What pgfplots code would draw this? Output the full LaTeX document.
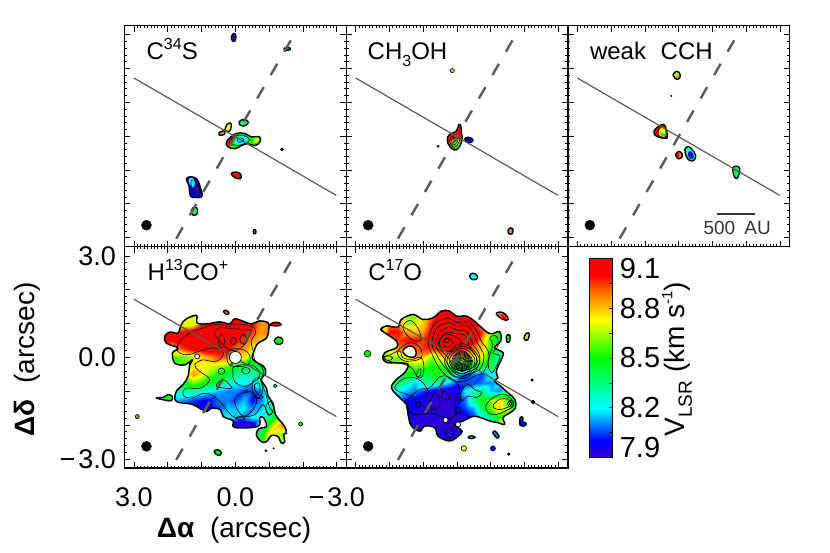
\documentclass[border=0pt]{standalone}
\usepackage{fontspec}
\setmainfont{Liberation Sans}
\usepackage{pgfplots}
\usepackage{pgfplotstable}
\pgfplotsset{compat=1.18}

\definecolor{vR}{RGB}{255,0,0}
\definecolor{vO}{RGB}{255,128,0}
\definecolor{vY}{RGB}{255,255,0}
\definecolor{vYG}{RGB}{170,255,0}
\definecolor{vG}{RGB}{0,255,0}
\definecolor{vGC}{RGB}{0,255,128}
\definecolor{vC}{RGB}{0,255,255}
\definecolor{vCB}{RGB}{0,128,255}
\definecolor{vB}{RGB}{0,0,255}
\definecolor{vI}{RGB}{60,0,200}
\definecolor{paline}{RGB}{90,90,90}

\newcommand{\sups}[1]{\raisebox{.42em}{\fontsize{16}{16}\selectfont #1}}
\newcommand{\subs}[1]{\raisebox{-.28em}{\fontsize{16}{16}\selectfont #1}}

\pgfplotsset{
  colormap={idl}{rgb255(0)=(60,0,200) rgb255(10)=(0,0,255) rgb255(30)=(0,255,255) rgb255(60)=(0,255,0) rgb255(83)=(255,255,0) rgb255(98)=(255,128,0) rgb255(110)=(255,0,0) rgb255(120)=(255,0,0)},
  panel/.style={
    scale only axis, width=221.7pt, height=221.2pt,
    xmin=-3.28, xmax=3.28, ymin=-3.27, ymax=3.27, x dir=reverse,
    axis on top, anchor=south west,
    xtick={-3,-2,-1,0,1,2,3}, ytick={-3,-2,-1,0,1,2,3},
    minor x tick num=9, minor y tick num=4, tick align=inside,
    major tick length=6pt, minor tick length=2.5pt,
    tick style={black,line width=.7pt},
    axis line style={line width=1.3pt},
    xticklabels={}, yticklabels={},
    colormap name=idl, point meta min=7.9, point meta max=9.1,
    tick label style={font=\fontsize{27}{27}\selectfont},
    label style={font=\fontsize{28}{28}\selectfont},
  },
  ct/.style={black,line width=.6pt,smooth cycle,tension=.7},
  field/.style={surf,shader=interp,point meta=explicit},
}
\newcommand{\ct}[1]{\addplot[ct] coordinates {#1};}
\newcommand{\blob}[2]{\addplot[fill=#1,draw=black,line width=1.4pt,line join=round,smooth cycle,tension=.7] coordinates {#2};}
\newcommand{\patch}[2]{\addplot[fill=#1,draw=none,smooth cycle,tension=.7] coordinates {#2};}
\newcommand{\dotm}[4]{\addplot[only marks,mark=*,mark size=#3pt,mark options={draw=black,fill=#4,line width=.7pt}] coordinates {(#1,#2)};}
\newcommand{\maskblob}[1]{%
  \fill[white,even odd rule] (-3.28,-3.27) rectangle (3.28,3.27) plot[smooth cycle,tension=.6] coordinates {#1};
  \addplot[draw=black,line width=1.5pt,line join=round,smooth cycle,tension=.6] coordinates {#1};}
\newcommand{\refl}{%
  \addplot[paline,line width=1.2pt] coordinates {(3.0,1.72)(-2.99,-1.75)};
  \addplot[paline,line width=2.4pt,dash pattern=on 13pt off 14pt] coordinates {(1.75,-3.03)(-1.73,2.99)};
  \addplot[only marks,mark=*,mark size=5pt,mark options={fill=black,draw=black}] coordinates {(2.63,-2.63)};}
\newcommand{\name}[2]{\node[anchor=base west,inner sep=0pt,font=\fontsize{24}{24}\selectfont] at (axis cs:#1,2.27) {#2};}

\pgfplotstableread[row sep=\\]{
a d v\\
2.25 1.5 9.05\\ 2 1.5 9.05\\ 1.75 1.5 8.9\\ 1.5 1.5 8.75\\ 1.25 1.5 8.7\\ 1 1.5 8.8\\ .75 1.5 8.9\\ .5 1.5 9\\ .25 1.5 9.05\\ 0 1.5 9.05\\ -.25 1.5 9\\ -.5 1.5 8.9\\ -.75 1.5 8.85\\ -1 1.5 8.85\\ -1.25 1.5 8.9\\ -1.5 1.5 8.9\\ -1.75 1.5 8.9\\
2.25 1.25 9.05\\ 2 1.25 9.05\\ 1.75 1.25 8.9\\ 1.5 1.25 8.75\\ 1.25 1.25 8.7\\ 1 1.25 8.8\\ .75 1.25 8.9\\ .5 1.25 9\\ .25 1.25 9.05\\ 0 1.25 9.05\\ -.25 1.25 9\\ -.5 1.25 8.9\\ -.75 1.25 8.85\\ -1 1.25 8.85\\ -1.25 1.25 8.9\\ -1.5 1.25 8.9\\ -1.75 1.25 8.9\\
2.25 1 9.05\\ 2 1 9.05\\ 1.75 1 8.9\\ 1.5 1 8.7\\ 1.25 1 8.7\\ 1 1 8.95\\ .75 1 9.05\\ .5 1 9.1\\ .25 1 9.05\\ 0 1 9.1\\ -.25 1 9.05\\ -.5 1 9\\ -.75 1 8.85\\ -1 1 8.88\\ -1.25 1 9\\ -1.5 1 9\\ -1.75 1 9\\
2.25 .75 9\\ 2 .75 9.05\\ 1.75 .75 8.95\\ 1.5 .75 9.05\\ 1.25 .75 9.1\\ 1 .75 9.1\\ .75 .75 9.1\\ .5 .75 9.1\\ .25 .75 9.05\\ 0 .75 9.05\\ -.25 .75 9\\ -.5 .75 8.95\\ -.75 .75 8.85\\ -1 .75 8.9\\ -1.25 .75 9\\ -1.5 .75 9\\ -1.75 .75 9\\
2.25 .5 9.05\\ 2 .5 9.05\\ 1.75 .5 9.05\\ 1.5 .5 9.1\\ 1.25 .5 9.1\\ 1 .5 9.1\\ .75 .5 9.1\\ .5 .5 9.1\\ .25 .5 9.05\\ 0 .5 9\\ -.25 .5 8.95\\ -.5 .5 8.85\\ -.75 .5 8.8\\ -1 .5 8.8\\ -1.25 .5 8.8\\ -1.5 .5 8.8\\ -1.75 .5 8.8\\
2.25 .25 8.8\\ 2 .25 8.7\\ 1.75 .25 8.85\\ 1.5 .25 8.95\\ 1.25 .25 9.05\\ 1 .25 9.05\\ .75 .25 9.1\\ .5 .25 9.05\\ .25 .25 9\\ 0 .25 8.9\\ -.25 .25 8.85\\ -.5 .25 8.75\\ -.75 .25 8.7\\ -1 .25 8.7\\ -1.25 .25 8.7\\ -1.5 .25 8.7\\ -1.75 .25 8.7\\
2.25 0 8.6\\ 2 0 8.6\\ 1.75 0 8.55\\ 1.5 0 8.6\\ 1.25 0 8.65\\ 1 0 8.8\\ .75 0 8.85\\ .5 0 8.95\\ .25 0 8.9\\ 0 0 8.8\\ -.25 0 8.75\\ -.5 0 8.6\\ -.75 0 8.6\\ -1 0 8.6\\ -1.25 0 8.6\\ -1.5 0 8.6\\ -1.75 0 8.6\\
2.25 -.25 8.55\\ 2 -.25 8.55\\ 1.75 -.25 8.55\\ 1.5 -.25 8.55\\ 1.25 -.25 8.75\\ 1 -.25 8.7\\ .75 -.25 8.7\\ .5 -.25 8.65\\ .25 -.25 8.6\\ 0 -.25 8.5\\ -.25 -.25 8.4\\ -.5 -.25 8.4\\ -.75 -.25 8.45\\ -1 -.25 8.45\\ -1.25 -.25 8.45\\ -1.5 -.25 8.45\\ -1.75 -.25 8.45\\
2.25 -.5 8.6\\ 2 -.5 8.6\\ 1.75 -.5 8.6\\ 1.5 -.5 8.65\\ 1.25 -.5 8.85\\ 1 -.5 8.75\\ .75 -.5 8.6\\ .5 -.5 8.5\\ .25 -.5 8.45\\ 0 -.5 8.35\\ -.25 -.5 8.3\\ -.5 -.5 8.3\\ -.75 -.5 8.4\\ -1 -.5 8.4\\ -1.25 -.5 8.4\\ -1.5 -.5 8.4\\ -1.75 -.5 8.4\\
2.25 -.75 8.4\\ 2 -.75 8.4\\ 1.75 -.75 8.4\\ 1.5 -.75 8.45\\ 1.25 -.75 8.6\\ 1 -.75 8.5\\ .75 -.75 8.45\\ .5 -.75 8.4\\ .25 -.75 8.3\\ 0 -.75 8.2\\ -.25 -.75 8.2\\ -.5 -.75 8.15\\ -.75 -.75 8.3\\ -1 -.75 8.4\\ -1.25 -.75 8.4\\ -1.5 -.75 8.4\\ -1.75 -.75 8.4\\
2.25 -1 8.25\\ 2 -1 8.25\\ 1.75 -1 8.25\\ 1.5 -1 8.3\\ 1.25 -1 8.3\\ 1 -1 8.25\\ .75 -1 8.2\\ .5 -1 8.15\\ .25 -1 8.1\\ 0 -1 8.1\\ -.25 -1 8.05\\ -.5 -1 8.05\\ -.75 -1 8.1\\ -1 -1 8.3\\ -1.25 -1 8.3\\ -1.5 -1 8.3\\ -1.75 -1 8.3\\
2.25 -1.25 8.15\\ 2 -1.25 8.15\\ 1.75 -1.25 8.15\\ 1.5 -1.25 8.1\\ 1.25 -1.25 8.05\\ 1 -1.25 8\\ .75 -1.25 8\\ .5 -1.25 8.1\\ .25 -1.25 8.1\\ 0 -1.25 8.05\\ -.25 -1.25 8.15\\ -.5 -1.25 8\\ -.75 -1.25 8.1\\ -1 -1.25 8.25\\ -1.25 -1.25 8.35\\ -1.5 -1.25 8.35\\ -1.75 -1.25 8.35\\
2.25 -1.5 8.1\\ 2 -1.5 8.1\\ 1.75 -1.5 8.1\\ 1.5 -1.5 8.05\\ 1.25 -1.5 8\\ 1 -1.5 8\\ .75 -1.5 8\\ .5 -1.5 8.05\\ .25 -1.5 8.15\\ 0 -1.5 8.15\\ -.25 -1.5 8.2\\ -.5 -1.5 8.1\\ -.75 -1.5 8.15\\ -1 -1.5 8.3\\ -1.25 -1.5 8.4\\ -1.5 -1.5 8.4\\ -1.75 -1.5 8.4\\
2.25 -1.75 8.05\\ 2 -1.75 8.05\\ 1.75 -1.75 8.05\\ 1.5 -1.75 8.05\\ 1.25 -1.75 8.05\\ 1 -1.75 8.05\\ .75 -1.75 8.05\\ .5 -1.75 8.15\\ .25 -1.75 8.2\\ 0 -1.75 8.15\\ -.25 -1.75 8.1\\ -.5 -1.75 8.2\\ -.75 -1.75 8.25\\ -1 -1.75 8.35\\ -1.25 -1.75 8.6\\ -1.5 -1.75 8.6\\ -1.75 -1.75 8.6\\
2.25 -2 8.1\\ 2 -2 8.1\\ 1.75 -2 8.1\\ 1.5 -2 8.1\\ 1.25 -2 8.1\\ 1 -2 8.1\\ .75 -2 8.1\\ .5 -2 8.1\\ .25 -2 8.1\\ 0 -2 7.9\\ -.25 -2 7.9\\ -.5 -2 7.9\\ -.75 -2 8.3\\ -1 -2 8.55\\ -1.25 -2 8.8\\ -1.5 -2 8.9\\ -1.75 -2 8.9\\
2.25 -2.25 8.3\\ 2 -2.25 8.3\\ 1.75 -2.25 8.3\\ 1.5 -2.25 8.3\\ 1.25 -2.25 8.3\\ 1 -2.25 8.3\\ .75 -2.25 8.3\\ .5 -2.25 8.3\\ .25 -2.25 8.3\\ 0 -2.25 8.3\\ -.25 -2.25 8.3\\ -.5 -2.25 8.3\\ -.75 -2.25 8.45\\ -1 -2.25 8.75\\ -1.25 -2.25 8.65\\ -1.5 -2.25 8.6\\ -1.75 -2.25 8.6\\
2.25 -2.5 8.3\\ 2 -2.5 8.3\\ 1.75 -2.5 8.3\\ 1.5 -2.5 8.3\\ 1.25 -2.5 8.3\\ 1 -2.5 8.3\\ .75 -2.5 8.3\\ .5 -2.5 8.3\\ .25 -2.5 8.3\\ 0 -2.5 8.3\\ -.25 -2.5 8.3\\ -.5 -2.5 8.3\\ -.75 -2.5 8.45\\ -1 -2.5 8.75\\ -1.25 -2.5 8.65\\ -1.5 -2.5 8.6\\ -1.75 -2.5 8.6\\
2.25 -2.75 8.3\\ 2 -2.75 8.3\\ 1.75 -2.75 8.3\\ 1.5 -2.75 8.3\\ 1.25 -2.75 8.3\\ 1 -2.75 8.3\\ .75 -2.75 8.3\\ .5 -2.75 8.3\\ .25 -2.75 8.3\\ 0 -2.75 8.3\\ -.25 -2.75 8.3\\ -.5 -2.75 8.3\\ -.75 -2.75 8.45\\ -1 -2.75 8.75\\ -1.25 -2.75 8.65\\ -1.5 -2.75 8.6\\ -1.75 -2.75 8.6\\
}\hcofield

\pgfplotstableread[row sep=\\]{
a d v\\
2.5 1.5 8.5\\ 2.25 1.5 8.5\\ 2 1.5 8.5\\ 1.75 1.5 8.6\\ 1.5 1.5 8.7\\ 1.25 1.5 8.7\\ 1 1.5 8.8\\ .75 1.5 8.95\\ .5 1.5 9.05\\ .25 1.5 9.05\\ 0 1.5 9.05\\ -.25 1.5 9.05\\ -.5 1.5 9.05\\ -.75 1.5 8.9\\ -1 1.5 8.7\\ -1.25 1.5 8.6\\ -1.5 1.5 8.6\\ -1.75 1.5 8.6\\
2.5 1.25 8.5\\ 2.25 1.25 8.5\\ 2 1.25 8.5\\ 1.75 1.25 8.6\\ 1.5 1.25 8.65\\ 1.25 1.25 8.6\\ 1 1.25 8.75\\ .75 1.25 8.9\\ .5 1.25 9.05\\ .25 1.25 9\\ 0 1.25 9.05\\ -.25 1.25 9.1\\ -.5 1.25 9\\ -.75 1.25 8.8\\ -1 1.25 8.6\\ -1.25 1.25 8.5\\ -1.5 1.25 8.5\\ -1.75 1.25 8.5\\
2.5 1 8.5\\ 2.25 1 8.5\\ 2 1 8.9\\ 1.75 1 8.9\\ 1.5 1 8.65\\ 1.25 1 8.7\\ 1 1 8.8\\ .75 1 9\\ .5 1 9.1\\ .25 1 9.1\\ 0 1 9.1\\ -.25 1 9.1\\ -.5 1 9.05\\ -.75 1 8.8\\ -1 1 8.55\\ -1.25 1 8.5\\ -1.5 1 8.5\\ -1.75 1 8.5\\
2.5 .75 8.55\\ 2.25 .75 8.55\\ 2 .75 9\\ 1.75 .75 9\\ 1.5 .75 8.85\\ 1.25 .75 8.8\\ 1 .75 8.85\\ .75 .75 9.05\\ .5 .75 9.1\\ .25 .75 9.1\\ 0 .75 9.1\\ -.25 .75 9.1\\ -.5 .75 9.1\\ -.75 .75 8.95\\ -1 .75 8.65\\ -1.25 .75 8.5\\ -1.5 .75 8.5\\ -1.75 .75 8.5\\
2.5 .5 8.7\\ 2.25 .5 8.7\\ 2 .5 8.9\\ 1.75 .5 8.95\\ 1.5 .5 9\\ 1.25 .5 9\\ 1 .5 8.95\\ .75 .5 9.05\\ .5 .5 9.1\\ .25 .5 9.1\\ 0 .5 9.1\\ -.25 .5 9.1\\ -.5 .5 9.05\\ -.75 .5 8.85\\ -1 .5 8.5\\ -1.25 .5 8.45\\ -1.5 .5 8.4\\ -1.75 .5 8.4\\
2.5 .25 8.7\\ 2.25 .25 8.7\\ 2 .25 8.7\\ 1.75 .25 8.85\\ 1.5 .25 8.9\\ 1.25 .25 8.9\\ 1 .25 8.95\\ .75 .25 8.95\\ .5 .25 9\\ .25 .25 9.05\\ 0 .25 9.05\\ -.25 .25 8.95\\ -.5 .25 8.85\\ -.75 .25 8.8\\ -1 .25 8.5\\ -1.25 .25 8.35\\ -1.5 .25 8.3\\ -1.75 .25 8.3\\
2.5 0 8.6\\ 2.25 0 8.6\\ 2 0 8.65\\ 1.75 0 8.6\\ 1.5 0 8.75\\ 1.25 0 8.85\\ 1 0 8.8\\ .75 0 8.6\\ .5 0 8.75\\ .25 0 8.8\\ 0 0 8.7\\ -.25 0 8.7\\ -.5 0 8.75\\ -.75 0 8.7\\ -1 0 8.45\\ -1.25 0 8.3\\ -1.5 0 8.3\\ -1.75 0 8.3\\
2.5 -.25 8.5\\ 2.25 -.25 8.5\\ 2 -.25 8.55\\ 1.75 -.25 8.55\\ 1.5 -.25 8.55\\ 1.25 -.25 8.6\\ 1 -.25 8.6\\ .75 -.25 8.5\\ .5 -.25 8.55\\ .25 -.25 8.55\\ 0 -.25 8.5\\ -.25 -.25 8.45\\ -.5 -.25 8.45\\ -.75 -.25 8.5\\ -1 -.25 8.4\\ -1.25 -.25 8.3\\ -1.5 -.25 8.3\\ -1.75 -.25 8.3\\
2.5 -.5 8.3\\ 2.25 -.5 8.3\\ 2 -.5 8.4\\ 1.75 -.5 8.45\\ 1.5 -.5 8.5\\ 1.25 -.5 8.45\\ 1 -.5 8.4\\ .75 -.5 8.45\\ .5 -.5 8.5\\ .25 -.5 8.4\\ 0 -.5 8.2\\ -.25 -.5 8.05\\ -.5 -.5 8.1\\ -.75 -.5 8.05\\ -1 -.5 8.25\\ -1.25 -.5 8.3\\ -1.5 -.5 8.3\\ -1.75 -.5 8.3\\
2.5 -.75 8.3\\ 2.25 -.75 8.3\\ 2 -.75 8.35\\ 1.75 -.75 8.35\\ 1.5 -.75 8.3\\ 1.25 -.75 8.15\\ 1 -.75 8.3\\ .75 -.75 8.35\\ .5 -.75 8.25\\ .25 -.75 8.15\\ 0 -.75 8.05\\ -.25 -.75 8.05\\ -.5 -.75 8.05\\ -.75 -.75 8.1\\ -1 -.75 8.1\\ -1.25 -.75 8.2\\ -1.5 -.75 8.3\\ -1.75 -.75 8.3\\
2.5 -1 8.25\\ 2.25 -1 8.25\\ 2 -1 8.25\\ 1.75 -1 8.2\\ 1.5 -1 8.15\\ 1.25 -1 8.1\\ 1 -1 8.05\\ .75 -1 7.95\\ .5 -1 7.92\\ .25 -1 7.92\\ 0 -1 7.95\\ -.25 -1 8.2\\ -.5 -1 8.3\\ -.75 -1 8.35\\ -1 -1 8.15\\ -1.25 -1 8.1\\ -1.5 -1 8.3\\ -1.75 -1 8.5\\
2.5 -1.25 8.1\\ 2.25 -1.25 8.1\\ 2 -1.25 8.1\\ 1.75 -1.25 8.1\\ 1.5 -1.25 8\\ 1.25 -1.25 7.98\\ 1 -1.25 7.95\\ .75 -1.25 7.95\\ .5 -1.25 7.92\\ .25 -1.25 7.92\\ 0 -1.25 7.95\\ -.25 -1.25 8.1\\ -.5 -1.25 8.35\\ -.75 -1.25 8.5\\ -1 -1.25 8.65\\ -1.25 -1.25 8.75\\ -1.5 -1.25 8.55\\ -1.75 -1.25 8.45\\
2.5 -1.5 8\\ 2.25 -1.5 8\\ 2 -1.5 8\\ 1.75 -1.5 8\\ 1.5 -1.5 8\\ 1.25 -1.5 7.98\\ 1 -1.5 7.95\\ .75 -1.5 7.92\\ .5 -1.5 7.92\\ .25 -1.5 7.92\\ 0 -1.5 8\\ -.25 -1.5 8.05\\ -.5 -1.5 8.15\\ -.75 -1.5 8.4\\ -1 -1.5 8.6\\ -1.25 -1.5 8.8\\ -1.5 -1.5 8.6\\ -1.75 -1.5 8.5\\
2.5 -1.75 7.95\\ 2.25 -1.75 7.95\\ 2 -1.75 7.95\\ 1.75 -1.75 7.95\\ 1.5 -1.75 7.95\\ 1.25 -1.75 7.95\\ 1 -1.75 7.95\\ .75 -1.75 7.95\\ .5 -1.75 7.95\\ .25 -1.75 7.92\\ 0 -1.75 7.92\\ -.25 -1.75 7.95\\ -.5 -1.75 8.05\\ -.75 -1.75 8.2\\ -1 -1.75 8.35\\ -1.25 -1.75 8.5\\ -1.5 -1.75 8.75\\ -1.75 -1.75 8.75\\
2.5 -2 7.95\\ 2.25 -2 7.95\\ 2 -2 7.95\\ 1.75 -2 7.95\\ 1.5 -2 7.95\\ 1.25 -2 7.95\\ 1 -2 7.92\\ .75 -2 7.92\\ .5 -2 7.92\\ .25 -2 7.92\\ 0 -2 7.92\\ -.25 -2 7.92\\ -.5 -2 7.95\\ -.75 -2 8.1\\ -1 -2 8.3\\ -1.25 -2 8.75\\ -1.5 -2 8.75\\ -1.75 -2 8.75\\
2.5 -2.25 7.95\\ 2.25 -2.25 7.95\\ 2 -2.25 7.95\\ 1.75 -2.25 7.95\\ 1.5 -2.25 7.95\\ 1.25 -2.25 7.95\\ 1 -2.25 7.95\\ .75 -2.25 7.95\\ .5 -2.25 7.95\\ .25 -2.25 7.95\\ 0 -2.25 7.95\\ -.25 -2.25 7.95\\ -.5 -2.25 7.95\\ -.75 -2.25 7.95\\ -1 -2.25 7.95\\ -1.25 -2.25 7.95\\ -1.5 -2.25 7.95\\ -1.75 -2.25 7.95\\
2.5 -2.5 7.95\\ 2.25 -2.5 7.95\\ 2 -2.5 7.95\\ 1.75 -2.5 7.95\\ 1.5 -2.5 7.95\\ 1.25 -2.5 7.95\\ 1 -2.5 7.95\\ .75 -2.5 7.95\\ .5 -2.5 7.95\\ .25 -2.5 7.95\\ 0 -2.5 7.95\\ -.25 -2.5 7.95\\ -.5 -2.5 7.95\\ -.75 -2.5 7.95\\ -1 -2.5 7.95\\ -1.25 -2.5 7.95\\ -1.5 -2.5 7.95\\ -1.75 -2.5 7.95\\
}\cofield

\begin{document}
\begin{tikzpicture}[x=1pt,y=1pt]
\path[use as bounding box] (0,0) rectangle (830,552);

% C34S
\begin{axis}[panel,at={(124.5pt,305.2pt)}]
\blob{vI}{(.12,2.91)(.07,3.02)(0,3.02)(-.01,2.86)(.06,2.80)}
\blob{vG}{(-1.46,2.61)(-1.61,2.61)(-1.61,2.55)(-1.46,2.55)}
\blob{vGC}{(-.11,.41)(-.21,.49)(-.35,.46)(-.37,.37)(-.25,.30)(-.13,.34)}
\blob{vY}{(.31,.18)(.25,.34)(.15,.39)(.12,.30)(.17,.15)(.27,.15)}
\blob{vO}{(.48,.10)(.38,.15)(.31,.15)(.33,.05)(.46,.03)}
\blob{vG}{(.27,-.20)(.17,-.05)(-.03,.08)(-.28,.08)(-.47,-.02)(-.72,-.02)(-.72,-.18)(-.57,-.28)(-.37,-.22)(-.18,-.28)(.02,-.37)(.22,-.31)}
\patch{vR}{(.25,-.22)(.15,-.06)(.02,.0)(.12,-.22)(.17,-.31)}
\patch{vC}{(-.03,-.05)(-.28,0)(-.37,-.15)(-.13,-.25)(.02,-.2)}
\patch{vY}{(-.55,-.08)(-.68,-.06)(-.68,-.15)(-.55,-.2)}
\ct{(.18,-.18)(.02,0)(-.25,.02)(-.42,-.1)(-.3,-.2)(-.05,-.28)}
\ct{(-.05,-.1)(-.15,-.05)(-.25,-.12)(-.12,-.18)}
\dotm{-1.38}{-.39}{1.5}{black}
\blob{vR}{(.12,-1.10)(-.03,-1.06)(-.16,-1.13)(-.15,-1.26)(.02,-1.22)}
\blob{vB}{(1.45,-1.26)(1.30,-1.20)(1.13,-1.28)(1.03,-1.53)(.99,-1.78)(1.20,-1.81)(1.33,-1.76)(1.37,-1.48)}
\patch{vC}{(1.38,-1.28)(1.25,-1.25)(1.2,-1.45)(1.3,-1.5)}
\patch{vI}{(1.2,-1.45)(1.08,-1.45)(1.05,-1.72)(1.18,-1.72)}
\ct{(1.3,-1.3)(1.15,-1.35)(1.05,-1.55)(1.08,-1.72)(1.22,-1.7)(1.3,-1.5)}
\ct{(1.17,-1.45)(1.08,-1.52)(1.1,-1.65)(1.2,-1.6)}
\blob{vGC}{(1.30,-2.19)(1.20,-2.09)(1.12,-2.17)(1.15,-2.32)(1.27,-2.32)}
\blob{vO}{(-.54,-2.77)(-.60,-2.77)(-.60,-2.88)(-.54,-2.88)}
\refl
\name{2.63}{C\sups{34}S}
\end{axis}

% CH3OH
\begin{axis}[panel,at={(346.2pt,305.2pt)}]
\dotm{.14}{1.94}{2}{vYG}
\blob{vR}{(.29,-.10)(.22,.05)(.02,.15)(-.05,.34)(-.11,.31)(-.13,.10)(-.15,-.12)(-.05,-.34)(.07,-.41)(.22,-.30)}
\patch{vG}{(.22,-.15)(.02,-.1)(-.11,-.1)(-.05,-.3)(.07,-.37)(.17,-.3)}
\patch{vY}{(.15,-.12)(.02,-.08)(-.08,-.1)(-.03,-.22)(.08,-.25)}
\ct{(.22,-.12)(.09,.02)(-.08,-.1)(.09,-.33)}
\ct{(.16,-.12)(.09,-.03)(-.03,-.1)(.09,-.26)}
\ct{(.1,-.12)(.09,-.08)(.02,-.12)(.09,-.18)}
\blob{vB}{(-.23,-.08)(-.33,-.03)(-.47,-.10)(-.42,-.18)(-.30,-.17)}
\dotm{.56}{-.30}{1}{vR}
\blob{vO}{(-1.51,-2.78)(-1.59,-2.71)(-1.65,-2.74)(-1.64,-2.88)(-1.53,-2.88)}
\refl
\name{2.65}{CH\subs{3}OH}
\end{axis}

% weak CCH
\begin{axis}[panel,at={(567.9pt,305.2pt)}]
\blob{vYG}{(.17,1.82)(.07,1.92)(-.03,1.85)(-.03,1.73)(.07,1.68)(.15,1.78)}
\patch{vO}{(.1,1.75)(.03,1.8)(-.01,1.75)(.06,1.71)}
\addplot[only marks,mark=*,mark size=.8pt,mark options={draw=none,fill=vR}] coordinates {(.22,1.19)};
\blob{vR}{(.73,.15)(.61,.28)(.44,.35)(.36,.15)(.34,-.05)(.51,-.05)(.69,.02)}
\patch{vY}{(.56,.24)(.41,.28)(.38,0)(.56,0)}
\patch{vG}{(.55,.09)(.38,.04)(.48,-.02)}
\ct{(.65,.1)(.44,.3)(.38,0)(.52,-.02)}
\blob{vO}{(.09,-.54)(0,-.45)(-.10,-.52)(-.10,-.61)(0,-.67)(.07,-.62)}
\patch{vR}{(.07,-.54)(0,-.48)(0,-.65)(.05,-.62)}
\blob{vG}{(-.18,-.39)(-.28,-.31)(-.39,-.39)(-.50,-.57)(-.45,-.71)(-.33,-.72)(-.23,-.61)}
\patch{vC}{(-.22,-.42)(-.33,-.36)(-.47,-.57)(-.36,-.68)(-.26,-.58)}
\patch{vB}{(-.28,-.49)(-.36,-.44)(-.45,-.6)(-.36,-.68)(-.29,-.6)}
\blob{vGC}{(-1.60,-.94)(-1.70,-.89)(-1.80,-.94)(-1.78,-1.13)(-1.72,-1.25)(-1.64,-1.18)}
\patch{vG}{(-1.63,-.97)(-1.68,-.95)(-1.68,-1.15)(-1.64,-1.13)}
\refl
\addplot[black!80,line width=2pt] coordinates {(-1.14,-2.29)(-2.26,-2.29)};
\node[anchor=base,inner sep=0pt,text=black!80,font=\fontsize{19}{19}\selectfont] at (axis cs:-1.73,-2.91) {500\hspace{4pt} AU};
\name{2.63}{weak\hspace{8pt} CCH}
\end{axis}

% H13CO+
\begin{axis}[panel,at={(124.5pt,84pt)},
  xticklabels={{−\hspace{3pt}3.0},,,{0.0},,,{3.0}},
  yticklabels={{−\hspace{3pt}3.0},,,{0.0},,,{3.0}},
  xticklabel style={yshift=-16pt},
  yticklabel style={xshift=-5pt},
  xlabel={\textbf{Δα}\hspace{8pt} (arcsec)},
  ylabel={\textbf{Δδ}\hspace{8pt} (arcsec)},
  x label style={at={(axis description cs:.494,-.28)},anchor=center},
  y label style={at={(axis description cs:-.44,.49)},anchor=center},
]
\addplot[field,mesh/cols=17] table[x=a,y=d,meta=v] {\hcofield};
\maskblob{(2.09,.62)(1.94,.75)(1.70,.72)(1.60,.97)(1.45,1.14)(1.15,1.24)(1.13,1.02)(.84,.99)(.46,1.05)(.17,.99)(.02,1.14)(-.23,1.07)(-.47,.99)(-.72,1.08)(-.97,1.02)(-.99,.82)(-.92,.57)(-.67,.42)(-.57,.23)(-.50,-.02)(-.62,-.14)(-.84,-.27)(-.90,-.46)(-.77,-.66)(-.92,-.91)(-.97,-1.15)(-1.11,-1.35)(-1.19,-1.70)(-1.29,-1.84)(-1.46,-2.04)(-1.51,-2.24)(-1.43,-2.27)(-1.46,-2.49)(-1.36,-2.53)(-1.26,-2.34)(-1.07,-2.31)(-.92,-2.49)(-.77,-2.49)(-.62,-2.29)(-.70,-2.11)(-.92,-2.04)(-.84,-1.79)(-.72,-1.78)(-.67,-2.04)(.02,-2.07)(.07,-1.87)(.36,-1.75)(.44,-1.55)(.71,-1.50)(.84,-1.60)(1.06,-1.50)(1.30,-1.38)(1.75,-1.30)(1.75,-1.01)(1.55,-.81)(1.40,-.56)(1.35,-.22)(1.27,-.07)(1.50,-.22)(1.79,-.17)(1.86,.13)(1.70,.28)(2.04,.42)}
\ct{(1.73,.28)(1.60,.52)(1.30,.75)(.96,.87)(.56,.97)(.17,.92)(-.03,.99)(-.47,.92)(-.60,.75)(-.47,.47)(-.52,.23)(-.57,-.07)(-.77,-.27)(-.84,-.46)(-.77,-.61)(-.82,-.86)(-.92,-1.15)(-1.02,-1.50)(-1.11,-1.60)(-.97,-1.70)(-.84,-1.40)(-.72,-1.50)(-.57,-1.70)(-.28,-1.75)(.02,-1.77)(.22,-1.60)(.46,-1.30)(.86,-1.06)(1.30,-1.20)(1.55,-1.10)(1.45,-.91)(1.06,-.91)(.76,-.66)(1.06,-.41)(1.20,-.22)(.96,-.07)(.71,-.12)(.46,-.07)(.36,.18)(.66,.28)(1.06,.18)(1.40,.08)(1.65,.13)}
\ct{(.61,.72)(.46,.87)(.07,.85)(-.28,.82)(-.47,.79)(-.37,.57)(-.23,.33)(.07,.20)(.32,.33)(.46,.47)}
\ct{(.51,.47)(.41,.68)(.31,.47)(.41,.28)}
\ct{(.15,.48)(.06,.59)(-.03,.48)(.06,.37)}
\ct{(-.13,.54)(-.23,.69)(-.33,.54)(-.23,.39)}
\ct{(.22,.18)(-.03,.26)(-.33,.18)(-.44,-.02)(-.37,-.22)(-.08,-.27)(.17,-.22)(.25,-.02)}
\ct{(.51,-.41)(.41,-.31)(.31,-.41)(.41,-.51)}
\ct{(-.18,-.39)(-.31,-.29)(-.44,-.39)(-.31,-.49)}
\ct{(.07,-.46)(.02,-.27)(-.42,-.22)(-.67,-.36)(-.72,-.56)(-.57,-.71)(-.28,-.86)(.02,-.71)}
\ct{(.56,-.81)(.36,-.66)(.17,-.81)(.12,-.91)(.46,-.89)}
\ct{(-.52,-.71)(-.72,-.61)(-.80,-1.01)(-.67,-1.20)(-.52,-1.01)}
\ct{(-.57,-.81)(-.70,-.76)(-.72,-1.05)(-.60,-1.01)}
\ct{(-.28,-1)(-.33,-.95)(-.38,-1)(-.33,-1.05)}
\ct{(-.03,-1.80)(-.15,-1.74)(-.28,-1.80)(-.15,-1.86)}
\ct{(-.57,-1.15)(-.69,-1.10)(-.82,-1.17)(-.69,-1.22)}
\ct{(-.90,-1.50)(-1.02,-1.30)(-1.13,-1.50)(-1.02,-1.70)}
\ct{(.02,-1.25)(-.23,-1.05)(-.52,-1.05)(-.62,-1.35)(-.37,-1.70)(-.13,-1.65)}
\dotm{0}{0}{6}{white}
\dotm{1.13}{.03}{2.5}{white}
\blob{vO}{(.35,1.36)(.27,1.39)(.19,1.31)(.27,1.27)}
\blob{vR}{(-1.02,.97)(-1.21,1.04)(-1.36,.97)(-1.21,.93)}
\blob{vG}{(-1.15,.50)(-1.26,.60)(-1.39,.55)(-1.38,.42)(-1.24,.39)}
\dotm{-1.18}{-.84}{1.8}{vGC}
\blob{vG}{(2.34,-1.20)(2.14,-1.18)(1.99,-1.10)(1.87,-1.15)(1.89,-1.28)(2.09,-1.26)}
\dotm{2.90}{-1.75}{2}{vO}
\dotm{-1.93}{-1.97}{2}{vG}
\blob{vG}{(.63,-2.78)(.51,-2.73)(.41,-2.83)(.51,-2.90)}
\dotm{-.90}{-2.76}{1}{black}
\addplot[only marks,mark=*,mark size=.8pt,mark options={draw=none,fill=vO}] coordinates {(-1.13,-2.69)};
\refl
\name{2.60}{H\sups{13}CO\sups{+}}
\end{axis}

% C17O
\begin{axis}[panel,at={(346.2pt,84pt)}]
\addplot[field,mesh/cols=18] table[x=a,y=d,meta=v] {\cofield};
\maskblob{(2.26,.83)(2.09,.93)(1.75,.90)(1.65,1.12)(1.30,1.27)(1.01,1.12)(.71,1.17)(.46,1.37)(.22,1.37)(.02,1.22)(-.28,1.22)(-.52,1.07)(-.67,.93)(-.97,.70)(-1.26,.76)(-1.29,.48)(-1.11,.29)(-1.36,.14)(-1.31,-.06)(-1.16,-.40)(-1.21,-.60)(-1.11,-.70)(-1.29,-.85)(-1.51,-1.05)(-1.71,-1.24)(-1.73,-1.49)(-1.56,-1.64)(-1.36,-1.78)(-1.41,-1.98)(-1.21,-1.93)(-.97,-1.88)(-.52,-1.74)(-.18,-1.88)(.07,-1.98)(-.15,-2.18)(-.03,-2.33)(.22,-2.47)(.56,-2.33)(.66,-2.08)(.96,-2.03)(1.10,-2.18)(1.35,-2.03)(1.45,-1.69)(1.50,-1.39)(1.70,-1.19)(1.94,-.90)(1.79,-.65)(1.55,-.45)(1.45,-.21)(1.75,-.16)(2.04,-.16)(2.19,-.06)(2.14,.14)(1.79,.29)(1.79,.48)(2.14,.73)}
\ct{(.84,.38)(.76,.83)(.56,1.07)(.22,1.15)(.02,1.03)(-.33,1.05)(-.57,.80)(-.72,.48)(-.92,.19)(-.92,-.11)(-.77,-.45)(-.52,-.55)(-.23,-.70)(.12,-.68)(.36,-.50)(.56,-.26)(.71,.04)}
\ct{(.74,.38)(.66,.76)(.48,.96)(.22,1.03)(.02,.93)(-.28,.95)(-.47,.73)(-.60,.43)(-.77,.14)(-.77,-.16)(-.62,-.40)(-.37,-.48)(-.13,-.58)(.12,-.55)(.29,-.38)(.46,-.16)(.61,.09)}
\ct{(.64,.38)(.54,.70)(.36,.86)(.17,.88)(-.01,.80)(-.23,.80)(-.37,.63)(-.47,.38)(-.64,.14)(-.67,-.16)(-.52,-.35)(-.33,-.42)(-.11,-.48)(.09,-.42)(.22,-.29)(.35,-.06)(.51,.14)}
\ct{(.56,.40)(.46,.63)(.27,.75)(.02,.70)(-.18,.68)(-.31,.53)(-.37,.29)(-.54,.09)(-.57,-.16)(-.44,-.31)(-.23,-.38)(-.03,-.38)(.12,-.29)(.22,-.06)(.41,.14)}
\ct{(.51,.48)(.32,.68)(.02,.60)(-.13,.48)(-.03,.29)(.27,.17)(.46,.27)}
\ct{(.41,.48)(.29,.58)(.12,.51)(.17,.35)(.35,.31)}
\ct{(.39,.50)(.31,.56)(.22,.50)(.31,.43)}
\ct{(.37,-.11)(-.15,.41)(-.67,-.11)(-.15,-.63)}
\ct{(.30,-.11)(-.15,.34)(-.60,-.11)(-.15,-.56)}
\ct{(.23,-.11)(-.15,.27)(-.53,-.11)(-.15,-.49)}
\ct{(.16,-.11)(-.15,.20)(-.46,-.11)(-.15,-.42)}
\ct{(.13,-.11)(-.15,.17)(-.43,-.11)(-.15,-.39)}
\ct{(.10,-.11)(-.15,.14)(-.40,-.11)(-.15,-.36)}
\ct{(.07,-.11)(-.15,.11)(-.37,-.11)(-.15,-.33)}
\ct{(.04,-.11)(-.15,.08)(-.34,-.11)(-.15,-.30)}
\ct{(.01,-.11)(-.15,.05)(-.31,-.11)(-.15,-.27)}
\ct{(-.02,-.11)(-.15,.02)(-.28,-.11)(-.15,-.24)}
\ct{(-.05,-.11)(-.15,-.01)(-.25,-.11)(-.15,-.21)}
\ct{(-.08,-.11)(-.15,-.04)(-.22,-.11)(-.15,-.18)}
\ct{(2.19,-.01)(1.94,.09)(1.70,.19)(1.60,-.01)(1.35,-.06)(1.06,-.01)(.98,-.35)(1.06,-.60)(1.20,-.55)(1.30,-.35)(1.55,-.21)(1.94,-.13)}
\ct{(1.40,-1.19)(1.10,-.95)(.81,-.90)(.46,-.55)(.07,-.70)(-.08,-1.00)(.07,-1.39)(.02,-1.69)(.36,-1.78)(.76,-1.64)(1.25,-1.69)(1.45,-1.49)}
\ct{(.41,-2.18)(.27,-2.06)(.09,-2.20)(.22,-2.38)}
\ct{(.37,-1.88)(.27,-1.80)(.17,-1.88)(.27,-1.96)}
\ct{(1.23,-1.39)(1.15,-1.31)(1.07,-1.39)(1.15,-1.47)}
\ct{(.81,-1.29)(.61,-1.05)(.51,-1.39)(.71,-1.54)}
\ct{(.41,-1.00)(.27,-1.09)(.22,-1.24)(.41,-1.21)}
\ct{(.07,-1.56)(-.03,-1.46)(-.13,-1.56)(-.03,-1.66)}
\ct{(-.13,-1.00)(-.33,-.80)(-.52,-.95)(-.72,-1.05)(-.57,-1.19)(-.33,-1.14)(-.13,-1.29)}
\ct{(-.87,-1.39)(-1.16,-1.14)(-1.41,-1.09)(-1.61,-1.24)(-1.66,-1.44)(-1.41,-1.59)(-1.16,-1.69)(-.92,-1.64)}
\ct{(-1.06,-1.44)(-1.26,-1.24)(-1.51,-1.24)(-1.61,-1.39)(-1.41,-1.51)(-1.21,-1.54)}
\ct{(-1.49,-1.37)(-1.59,-1.27)(-1.69,-1.37)(-1.59,-1.47)}
\ct{(-1.54,-1.37)(-1.59,-1.32)(-1.64,-1.37)(-1.59,-1.42)}
\ct{(1.20,-.55)(1.13,-.35)(1.07,-.38)(1.10,-.55)}
\ct{(-.97,.58)(-1.16,.63)(-1.21,.34)(-1.06,.14)(-1.26,.04)(-1.16,-.26)(-1.02,-.45)(-.92,-.21)(-.97,.09)(-1.06,.38)}
\ct{(1.84,-.90)(1.50,-.60)(1.06,-.70)(.86,-1.09)(1.15,-1.19)(1.50,-1.09)}
\ct{(1.75,.19)(1.40,.43)(1.10,.29)(1.06,-.01)(1.40,-.11)(1.65,-.06)}
\ct{(1.60,.88)(1.40,1.09)(1.17,.88)(1.07,.53)(1.35,.53)}
\ct{(2.15,-.02)(2.04,.05)(1.90,-.02)(2.04,-.10)}
\blob{white}{(1.60,.21)(1.40,.34)(1.23,.24)(1.23,.04)(1.40,.01)(1.55,.09)}
\dotm{.34}{-1.85}{2.5}{white}
\dotm{-.03}{-1.98}{2.5}{white}
\blob{vC}{(-.37,2.41)(-.47,2.49)(-.60,2.41)(-.57,2.31)(-.44,2.31)}
\blob{vO}{(-1.16,1.29)(-1.31,1.34)(-1.46,1.24)(-1.51,1.12)(-1.36,1.12)}
\patch{vR}{(-1.3,1.29)(-1.42,1.22)(-1.46,1.15)(-1.36,1.15)}
\blob{vG}{(-1.46,.63)(-1.56,.66)(-1.56,.48)(-1.48,.45)}
\blob{vYG}{(-1.98,.56)(-2.05,.71)(-2.14,.70)(-2.08,.51)}
\dotm{2.65}{.11}{3.3}{vG}
\dotm{-2.22}{-.67}{1.2}{black}
\dotm{-2.25}{-1.32}{1.8}{black}
\blob{vB}{(-1.87,-1.78)(-1.95,-1.78)(-1.95,-1.91)(-2.03,-1.93)(-2.03,-2.01)(-1.87,-2.01)}
\blob{vC}{(-.33,-2.36)(-.42,-2.32)(-.54,-2.36)(-.42,-2.40)}
\blob{vCB}{(-1.06,-2.23)(-1.13,-2.18)(-1.24,-2.33)(-1.18,-2.38)}
\dotm{-.20}{-2.69}{2.7}{vY}
\dotm{-1.06}{-2.69}{2.5}{vB}
\dotm{-1.53}{-2.86}{1.3}{black}
\refl
\name{2.63}{C\sups{17}O}
\end{axis}

% velocity bar
\begin{axis}[scale only axis,anchor=south west,at={(589.3pt,94.3pt)},width=23pt,height=199.4pt,
  xmin=0,xmax=1,ymin=7.9,ymax=9.1,axis on top,
  colormap name=idl,point meta min=7.9,point meta max=9.1,
  xtick=\empty,ytick pos=right,yticklabel pos=right,tick align=inside,
  ytick={7.96,8.2,8.5,8.8,9.04},yticklabels={7.9,8.2,8.5,8.8,9.1},
  minor ytick={8.05,8.2,8.35,8.5,8.65,8.8,8.95},
  major tick length=0pt,minor tick length=3pt,
  tick style={black,line width=.7pt},
  axis line style={line width=.8pt},
  yticklabel style={font=\fontsize{29}{29}\selectfont,xshift=4pt},
]
\addplot[surf,shader=interp,mesh/cols=2,point meta=y] coordinates {
(0,7.9)(1,7.9)
(0,8.0)(1,8.0)
(0,8.2)(1,8.2)
(0,8.5)(1,8.5)
(0,8.73)(1,8.73)
(0,8.88)(1,8.88)
(0,9.0)(1,9.0)
(0,9.1)(1,9.1)
};
\end{axis}
\node[rotate=90,font=\fontsize{28}{28}\selectfont] at (677,193) {V\raisebox{-.25em}{\fontsize{19}{19}\selectfont LSR} (km s\raisebox{.45em}{\fontsize{15}{15}\selectfont -1})};
\end{tikzpicture}
\end{document}
